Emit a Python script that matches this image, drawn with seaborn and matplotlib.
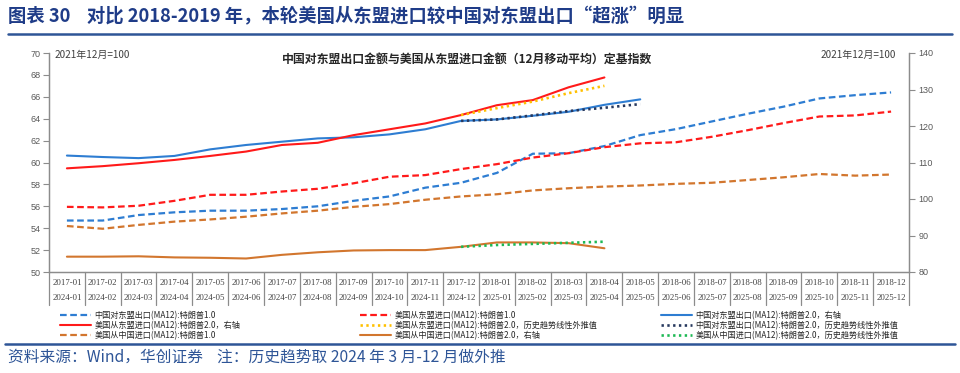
import numpy as np
import pandas as pd
import matplotlib
matplotlib.use("Agg")
import matplotlib.pyplot as plt
import matplotlib.transforms as mtransforms
from matplotlib.lines import Line2D
import seaborn as sns

sns.set_style("white")
plt.rcParams['font.family'] = ['Noto Sans CJK SC', 'DejaVu Sans']

# ---------------- data ----------------
months_t1 = ["2017-01", "2017-02", "2017-03", "2017-04", "2017-05", "2017-06",
             "2017-07", "2017-08", "2017-09", "2017-10", "2017-11", "2017-12",
             "2018-01", "2018-02", "2018-03", "2018-04", "2018-05", "2018-06",
             "2018-07", "2018-08", "2018-09", "2018-10", "2018-11", "2018-12"]
months_t2 = ["2024-01", "2024-02", "2024-03", "2024-04", "2024-05", "2024-06",
             "2024-07", "2024-08", "2024-09", "2024-10", "2024-11", "2024-12",
             "2025-01", "2025-02", "2025-03", "2025-04", "2025-05", "2025-06",
             "2025-07", "2025-08", "2025-09", "2025-10", "2025-11", "2025-12"]

# Trump 1.0 (left axis)
cn_asean_t1 = [54.7, 54.7, 55.2, 55.45, 55.6, 55.6, 55.75, 56.0, 56.5, 56.9, 57.7, 58.15,
               59.05, 60.8, 60.85, 61.5, 62.5, 63.05, 63.75, 64.45, 65.1, 65.85, 66.15, 66.4]
us_asean_t1 = [55.95, 55.9, 56.05, 56.5, 57.05, 57.05, 57.35, 57.6, 58.1, 58.7, 58.85, 59.4,
               59.85, 60.45, 60.85, 61.4, 61.75, 61.85, 62.35, 62.95, 63.6, 64.2, 64.3, 64.65]
us_china_t1 = [54.2, 53.95, 54.3, 54.6, 54.8, 55.05, 55.35, 55.6, 55.95, 56.2, 56.6, 56.9,
               57.1, 57.45, 57.65, 57.8, 57.9, 58.05, 58.15, 58.4, 58.65, 58.95, 58.8, 58.9]

# Trump 2.0 (right axis)
cn_asean_t2 = [111.9, 111.5, 111.2, 111.8, 113.6, 114.8, 115.7, 116.6, 116.9, 117.7, 119.1,
               121.4, 121.8, 122.8, 123.9, 125.8, 127.3]
us_asean_t2 = [108.4, 109.0, 109.8, 110.7, 111.8, 113.0, 114.8, 115.4, 117.5, 119.1, 120.7,
               123.0, 125.7, 127.1, 130.6, 133.3]
us_china_t2 = [84.2, 84.2, 84.3, 84.0, 83.9, 83.7, 84.7, 85.4, 85.9, 86.0, 86.0,
               86.9, 88.1, 88.1, 87.9, 86.5]

# Trend extrapolations (start 2024-12, right axis)
us_asean_trend = [123.0, 124.9, 126.7, 129.0, 131.0]
cn_asean_trend = [121.4, 121.8, 122.9, 124.1, 125.0, 126.0]
us_china_trend = [86.9, 87.4, 87.7, 88.0, 88.3]
trend_start = 11

left_ticks = [50, 52, 54, 56, 58, 60, 62, 64, 66, 68, 70]
right_ticks = [80, 90, 100, 110, 120, 130, 140]

labels = {
    "cn1": "中国对东盟出口(MA12):特朗普1.0",
    "us1": "美国从东盟进口(MA12):特朗普1.0",
    "cn2": "中国对东盟出口(MA12):特朗普2.0，右轴",
    "us2": "美国从东盟进口(MA12):特朗普2.0，右轴",
    "usT": "美国从东盟进口(MA12):特朗普2.0，历史趋势线性外推值",
    "cnT": "中国对东盟出口(MA12):特朗普2.0，历史趋势线性外推值",
    "ch1": "美国从中国进口(MA12):特朗普1.0",
    "ch2": "美国从中国进口(MA12):特朗普2.0，右轴",
    "chT": "美国从中国进口(MA12):特朗普2.0，历史趋势线性外推值",
}

BLUE = "#2E7DD2"
RED = "#FF1A1A"
ORANGE = "#D2762E"
NAVY = "#26385E"
YELLOW = "#FFC000"
GREEN = "#1DB954"

# ---------------- figure ----------------
fig = plt.figure(figsize=(9.6, 3.73), dpi=100)
ax = fig.add_axes([49/960, 1-272/373, 860/960, 219/373])
ax2 = ax.twinx()

dash = (0, (3, 1.6))
dot = (0, (0.9, 1.3))

def line(axis, y, start, color, style, lw):
    x = np.arange(start, start + len(y))
    df = pd.DataFrame({"x": x, "y": y})
    sns.lineplot(data=df, x="x", y="y", ax=axis, color=color, lw=lw, linestyle=style,
                 legend=False, dashes=False)
    axis.lines[-1].set_linestyle(style)
    return Line2D([], [], color=color, lw=lw, linestyle=style)

h = {}
h["cn1"] = line(ax, cn_asean_t1, 0, BLUE, dash, 1.6)
h["us1"] = line(ax, us_asean_t1, 0, RED, dash, 1.6)
h["ch1"] = line(ax, us_china_t1, 0, ORANGE, dash, 1.6)
h["cn2"] = line(ax2, cn_asean_t2, 0, BLUE, "-", 1.5)
h["us2"] = line(ax2, us_asean_t2, 0, RED, "-", 1.5)
h["ch2"] = line(ax2, us_china_t2, 0, ORANGE, "-", 1.5)
h["usT"] = line(ax2, us_asean_trend, trend_start, YELLOW, dot, 1.9)
h["cnT"] = line(ax2, cn_asean_trend, trend_start, NAVY, dot, 1.9)
h["chT"] = line(ax2, us_china_trend, trend_start, GREEN, dot, 1.9)

ax.set_xlim(-0.5, 23.5)
ax.set_ylim(50, 70)
ax2.set_ylim(80, 140)
ax.set_yticks(left_ticks)
ax2.set_yticks(right_ticks)
ax.set_xticks([])
ax.set_xlabel("")
ax.set_ylabel("")
ax2.set_xlabel("")
ax2.set_ylabel("")

for a in (ax, ax2):
    for s in a.spines.values():
        s.set_color("#8C8C8C")
        s.set_linewidth(0.9)
    a.spines["top"].set_visible(False)
ax.tick_params(axis="y", direction="out", length=4, width=0.8, color="#8C8C8C",
               labelsize=6.5, labelcolor="#595959", pad=2)
ax2.tick_params(axis="y", direction="out", length=4, width=0.8, color="#8C8C8C",
                labelsize=6.5, labelcolor="#595959", pad=3)
for t in ax.get_yticklabels() + ax2.get_yticklabels():
    t.set_family(["Liberation Sans", "DejaVu Sans"])

# category axis with two levels
trans = mtransforms.blended_transform_factory(ax.transData, ax.transAxes)
for i in range(24):
    ax.text(i, -0.05, months_t1[i], transform=trans, ha="center", va="center",
            fontsize=6.3, color="#404040", family=["Liberation Serif"])
    ax.text(i, -0.118, months_t2[i], transform=trans, ha="center", va="center",
            fontsize=6.3, color="#404040", family=["Liberation Serif"])
for b in np.arange(-0.5, 24.0, 1.0):
    ax.plot([b, b], [0, -0.15], transform=trans, color="#8C8C8C", lw=0.9, clip_on=False)

# annotations inside
ax.text(0.006, 0.99, "2021年12月=100", transform=ax.transAxes, ha="left", va="center",
        fontsize=7.2, color="#404040")
ax.text(0.985, 0.99, "2021年12月=100", transform=ax.transAxes, ha="right", va="center",
        fontsize=7.2, color="#404040")
ax.text(0.486, 0.97, "中国对东盟出口金额与美国从东盟进口金额（12月移动平均）定基指数",
        transform=ax.transAxes, ha="center", va="center", fontsize=8.6,
        fontweight="bold", color="#262626")

# header
fig.text(8/960, 1-17/373, "图表 30    对比 2018-2019 年，本轮美国从东盟进口较中国对东盟出口“超涨”明显",
         ha="left", va="center", fontsize=13.2, fontweight="bold", color="#1F3C88")
fig.add_artist(Line2D([8/960, 952/960], [1-34/373, 1-34/373], color="#2E5597", lw=1.8))

# legend: three separate columns at fixed positions
cols = [["cn1", "us2", "ch1"], ["us1", "usT", "ch2"], ["cn2", "cnT", "chT"]]
col_x = [60, 360, 661]
for keys, x0 in zip(cols, col_x):
    leg = fig.legend([h[k] for k in keys], [labels[k] for k in keys],
                     loc="upper left", bbox_to_anchor=(x0/960, 1-311/373), ncol=1,
                     frameon=False, fontsize=5.9, handlelength=3.8, handletextpad=0.4,
                     labelspacing=0.12, borderpad=0, borderaxespad=0)
    for t in leg.get_texts():
        t.set_color("#262626")

# footer
fig.add_artist(Line2D([5/960, 955/960], [1-344/373, 1-344/373], color="#2E5597", lw=1.8))
fig.text(8/960, 1-357/373, "资料来源：Wind，华创证券    注：历史趋势取 2024 年 3 月-12 月做外推",
         ha="left", va="center", fontsize=11.3, style="italic", color="#2E5597")

fig.savefig("out.png", dpi=100)
